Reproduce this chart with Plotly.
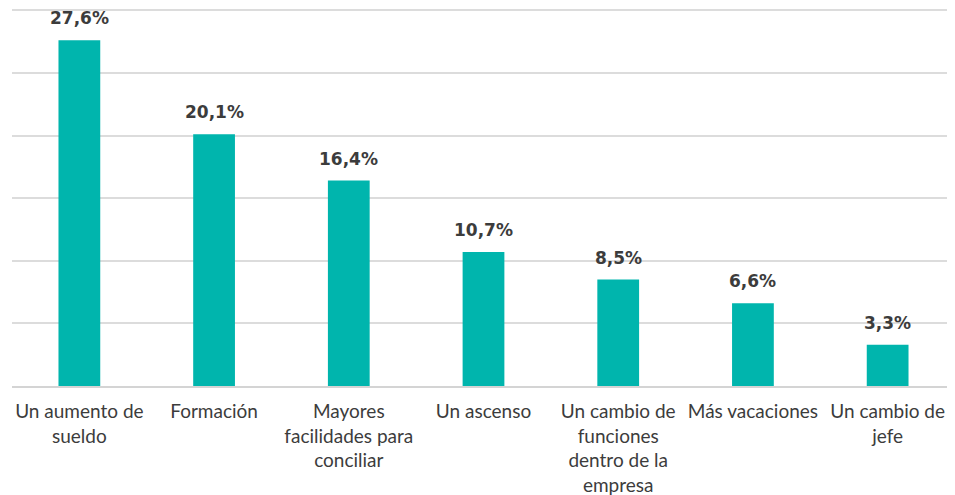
import plotly.graph_objects as go

categories = [
    "Un aumento de<br>sueldo",
    "Formación",
    "Mayores<br>facilidades para<br>conciliar",
    "Un ascenso",
    "Un cambio de<br>funciones<br>dentro de la<br>empresa",
    "Más vacaciones",
    "Un cambio de<br>jefe",
]
values = [27.6, 20.1, 16.4, 10.7, 8.5, 6.6, 3.3]

BAR = "#00B5AD"
TEXT = "#3c3c3c"

fig = go.Figure()
fig.add_trace(go.Bar(
    x=categories,
    y=values,
    marker=dict(color=BAR, line=dict(width=0)),
    width=0.31,
    hoverinfo="skip",
))

# value labels above each bar
for c, v in zip(categories, values):
    fig.add_annotation(
        x=c, y=v,
        text="<b>" + f"{v:.1f}".replace(".", ",") + "%</b>",
        showarrow=False,
        yanchor="bottom",
        yshift=10,
        font=dict(family="DejaVu Sans", size=17, color=TEXT),
    )

# the page body adds an 8px offset, so the figure is sized to fit the window
fig.update_layout(
    width=947,
    height=487,
    margin=dict(l=4, r=0, t=1, b=109),
    paper_bgcolor="white",
    plot_bgcolor="white",
    showlegend=False,
    xaxis=dict(
        showgrid=False,
        showline=True,
        linecolor="#d4d4d4",
        linewidth=2,
        ticks="",
        tickfont=dict(family="Lato", size=19, color=TEXT),
        tickangle=0,
        ticklabelstandoff=7,
    ),
    yaxis=dict(
        range=[0, 30.1],  # a touch above 30 so the top gridline is drawn
        dtick=5,
        showgrid=True,
        gridcolor="#dcdcdc",
        gridwidth=1.5,
        zeroline=False,
        showticklabels=False,
        ticks="",
    ),
)

fig.write_html("out.html")
